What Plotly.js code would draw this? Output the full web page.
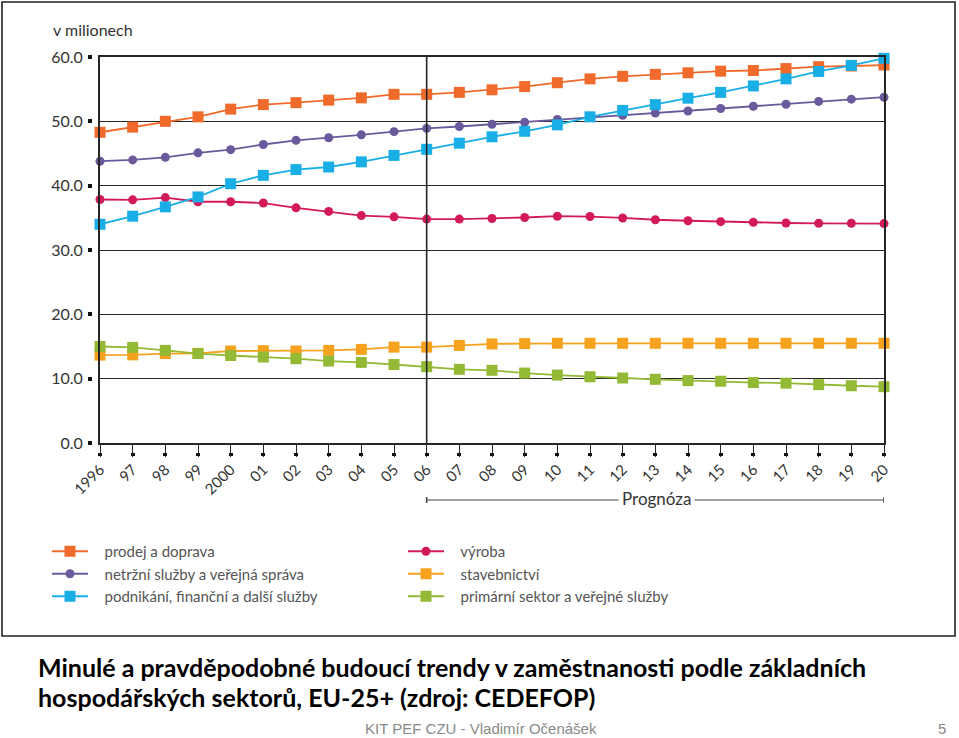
<!DOCTYPE html>
<html><head><meta charset="utf-8">
<script src="https://cdn.plot.ly/plotly-3.0.1.min.js"></script>
<style>html,body{margin:0;padding:0;background:#fff;}#chart{width:959px;height:738px;}</style>
</head><body><div id="chart"></div>
<script>
// ---- data ----
const years = [1996,1997,1998,1999,2000,2001,2002,2003,2004,2005,2006,2007,2008,2009,2010,2011,2012,2013,2014,2015,2016,2017,2018,2019,2020];
const yearLabels = ["1996","97","98","99","2000","01","02","03","04","05","06","07","08","09","10","11","12","13","14","15","16","17","18","19","20"];
const prodejDoprava = [48.3,49.1,50.0,50.7,51.9,52.6,52.9,53.3,53.65,54.2,54.2,54.5,54.9,55.4,56.0,56.6,57.0,57.3,57.55,57.8,57.9,58.2,58.5,58.6,58.75];
const netrzniSluzby = [43.8,44.0,44.4,45.1,45.6,46.4,47.05,47.45,47.9,48.4,48.9,49.2,49.55,49.85,50.3,50.6,50.95,51.3,51.6,52.0,52.35,52.65,53.1,53.45,53.75];
const podnikani = [34.0,35.25,36.7,38.25,40.3,41.6,42.5,42.9,43.7,44.7,45.65,46.6,47.6,48.45,49.45,50.7,51.7,52.6,53.6,54.5,55.5,56.6,57.75,58.7,59.8];
const vyroba = [37.85,37.8,38.15,37.5,37.5,37.3,36.55,36.0,35.35,35.15,34.8,34.8,34.9,35.05,35.25,35.2,34.98,34.7,34.55,34.4,34.3,34.2,34.15,34.15,34.1];
const stavebnictvi = [13.66,13.7,13.9,13.93,14.3,14.35,14.3,14.4,14.55,14.9,14.9,15.17,15.4,15.45,15.5,15.5,15.5,15.5,15.5,15.5,15.5,15.5,15.5,15.5,15.5];
const primarni = [15.0,14.86,14.4,13.9,13.6,13.36,13.1,12.74,12.53,12.2,11.86,11.45,11.3,10.87,10.56,10.3,10.1,9.9,9.7,9.6,9.4,9.3,9.07,8.9,8.75];
const seriesNames = ["prodej a doprava","netržní služby a veřejná správa","podnikání, finanční a další služby","výroba","stavebnictví","primární sektor a veřejné služby"];
const yTicks = [0,10,20,30,40,50,60];
const forecastStart = 2006;
const forecastEnd = 2020;

// ---- layout helpers (pixel -> paper) ----
const W = 959, H = 738;
const px = v => v / W;
const py = v => 1 - v / H;
const FONT = "Lato, 'Open Sans', sans-serif";
const GRID = "#262626";
const PAD = "\u00A0\u00A0\u00A0";

function tr(name, y, color, symbol, size, legend) {
  return {
    x: years, y: y, name: PAD + name, type: "scatter", mode: "lines+markers",
    line: {color: color, width: 1.8},
    marker: {color: color, symbol: symbol, size: size},
    cliponaxis: false, legend: legend, hoverinfo: "x+y+name"
  };
}

const traces = [
  tr(seriesNames[3], vyroba, "#D21A5B", "circle", 9, "legend2"),
  tr(seriesNames[4], stavebnictvi, "#F6A21E", "square", 11, "legend2"),
  tr(seriesNames[5], primarni, "#93B935", "square", 11, "legend2"),
  tr(seriesNames[1], netrzniSluzby, "#6A5A9B", "circle", 9, "legend"),
  tr(seriesNames[0], prodejDoprava, "#EF6A2B", "square", 11, "legend"),
  tr(seriesNames[2], podnikani, "#19AEE6", "square", 11, "legend"),
  // helper traces to carry the secondary tick axes (no visible marks)
  {x: years, y: prodejDoprava, xaxis: "x2", yaxis: "y2", mode: "none", type: "scatter",
   showlegend: false, hoverinfo: "skip"},
  {x: years, y: prodejDoprava, xaxis: "x3", yaxis: "y2", mode: "none", type: "scatter",
   showlegend: false, hoverinfo: "skip"}
];
// legend order within each column
traces[4].legendrank = 1; traces[3].legendrank = 2; traces[5].legendrank = 3;
traces[0].legendrank = 1; traces[1].legendrank = 2; traces[2].legendrank = 3;

const layout = {
  width: W, height: H,
  margin: {l: 0, r: 0, t: 0, b: 0, pad: 0},
  paper_bgcolor: "#fff", plot_bgcolor: "#fff",
  font: {family: FONT, color: "#333"},
  showlegend: true,
  xaxis: {
    domain: [px(100), px(884)], range: [1996, 2020], tickvals: years, ticktext: yearLabels,
    showticklabels: false, ticks: "outside", ticklen: 12, tickwidth: 1.2, tickcolor: GRID,
    showgrid: false, zeroline: false, showline: true, linecolor: GRID, linewidth: 1.6, mirror: true,
    fixedrange: true
  },
  yaxis: {
    domain: [py(443), py(57)], range: [0, 60], tickvals: yTicks,
    showticklabels: false, ticks: "", showgrid: true, gridcolor: GRID, gridwidth: 1.4,
    zeroline: false, showline: true, linecolor: GRID, linewidth: 1.6, mirror: true, fixedrange: true
  },
  // small square tick ends
  xaxis2: {
    overlaying: "x", anchor: "free", position: py(452), range: [1996, 2020],
    tickvals: years, showticklabels: false,
    ticks: "outside", ticklen: 3, tickwidth: 3.5, tickcolor: "#111",
    showgrid: false, zeroline: false, showline: false, fixedrange: true
  },
  // rotated year labels
  xaxis3: {
    overlaying: "x", anchor: "free", position: py(457), range: [1996, 2020],
    tickvals: years, ticktext: yearLabels, tickangle: -45, ticks: "",
    tickfont: {family: FONT, size: 15, color: "#333"},
    showgrid: false, zeroline: false, showline: false, fixedrange: true
  },
  yaxis2: {
    overlaying: "y", anchor: "free", side: "left", position: px(92), range: [0, 60],
    tickvals: yTicks, tickformat: ".1f", ticklabelstandoff: 2,
    ticks: "outside", ticklen: 4, tickwidth: 3.5, tickcolor: "#111",
    tickfont: {family: FONT, size: 16, color: "#333"},
    showgrid: false, zeroline: false, showline: false, fixedrange: true
  },
  legend: {
    x: px(47), y: py(535), xanchor: "left", yanchor: "top", orientation: "v",
    itemwidth: 36, tracegroupgap: 0, bgcolor: "rgba(0,0,0,0)",
    font: {family: FONT, size: 15, color: "#555"}
  },
  legend2: {
    x: px(403), y: py(535), xanchor: "left", yanchor: "top", orientation: "v",
    itemwidth: 36, tracegroupgap: 0, bgcolor: "rgba(0,0,0,0)",
    font: {family: FONT, size: 15, color: "#555"}
  },
  shapes: [
    // forecast divider
    {type: "line", xref: "x", yref: "y", x0: forecastStart, x1: forecastStart, y0: 0, y1: 60,
     line: {color: GRID, width: 1.6}},
    // Prognóza range bar
    {type: "line", xref: "x", yref: "paper", x0: forecastStart, x1: forecastEnd, y0: py(500), y1: py(500),
     line: {color: "#444", width: 1.2}},
    {type: "line", xref: "x", yref: "paper", x0: forecastStart, x1: forecastStart, y0: py(497), y1: py(503),
     line: {color: "#444", width: 1.5}},
    {type: "line", xref: "x", yref: "paper", x0: forecastEnd, x1: forecastEnd, y0: py(497), y1: py(503),
     line: {color: "#444", width: 1.5}},
    // outer frame
    {type: "rect", xref: "paper", yref: "paper", x0: px(2), x1: px(955), y0: py(636), y1: py(2),
     line: {color: "#222", width: 1.6}}
  ],
  annotations: [
    {text: "v milionech", xref: "paper", yref: "paper", x: px(51), y: py(29), xanchor: "left", yanchor: "middle",
     showarrow: false, font: {family: FONT, size: 16, color: "#333"}},
    {text: "Prognóza", xref: "paper", yref: "paper", x: px(656), y: py(499), xanchor: "center", yanchor: "middle",
     showarrow: false, bgcolor: "#fff", borderpad: 3, font: {family: FONT, size: 17, color: "#333"}},
    {text: "<b>Minulé a pravděpodobné budoucí trendy v zaměstnanosti podle základních</b>",
     xref: "paper", yref: "paper", x: px(36), y: py(667), xanchor: "left", yanchor: "middle", align: "left",
     showarrow: false, font: {family: FONT, size: 25, color: "#000"}},
    {text: "<b>hospodářských sektorů, EU-25+ (zdroj: CEDEFOP)</b>",
     xref: "paper", yref: "paper", x: px(36), y: py(697), xanchor: "left", yanchor: "middle", align: "left",
     showarrow: false, font: {family: FONT, size: 25, color: "#000"}},
    {text: "KIT PEF CZU - Vladimír Očenášek", xref: "paper", yref: "paper", x: px(481), y: py(728),
     xanchor: "center", yanchor: "middle", showarrow: false,
     font: {family: "'Liberation Sans', sans-serif", size: 15, color: "#8a8a8a"}},
    {text: "5", xref: "paper", yref: "paper", x: px(942), y: py(728), xanchor: "center", yanchor: "middle",
     showarrow: false, font: {family: "'Liberation Sans', sans-serif", size: 15, color: "#8a8a8a"}}
  ]
};

Plotly.newPlot("chart", traces, layout, {displayModeBar: false});
</script>
</body></html>
